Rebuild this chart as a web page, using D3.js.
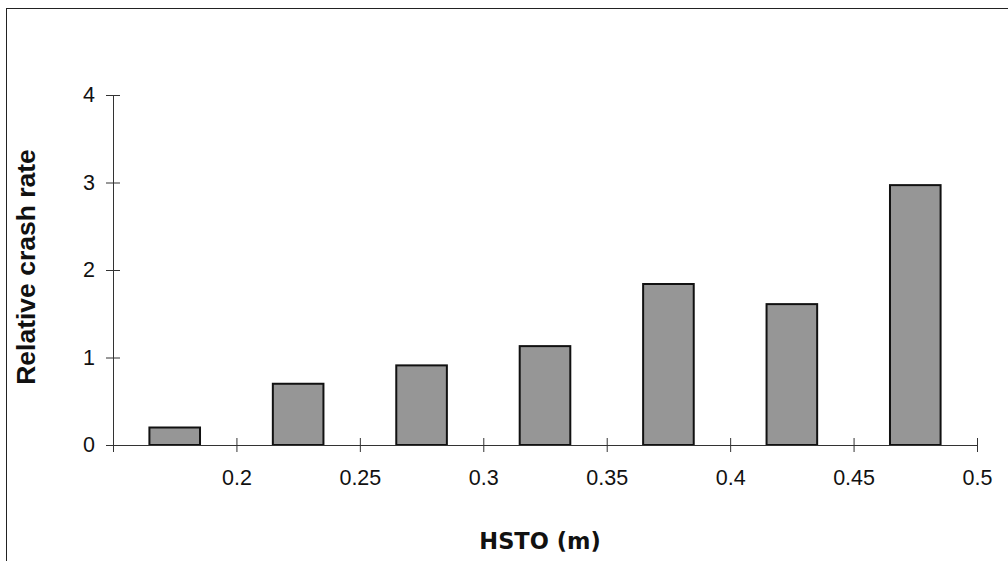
<!DOCTYPE html>
<html>
<head>
<meta charset="utf-8">
<script src="https://cdn.jsdelivr.net/npm/d3@7"></script>
<style>
  html, body { margin: 0; padding: 0; background: #fff; }
  svg { display: block; }
</style>
</head>
<body>
<svg id="chart" width="1008" height="561"></svg>
<script>
// Height-of-step-to-object bins (m), lower and upper edges
const binStart = [0.15, 0.20, 0.25, 0.30, 0.35, 0.40, 0.45];
const binEnd   = [0.20, 0.25, 0.30, 0.35, 0.40, 0.45, 0.50];
// Relative crash rate per bin
const crashRate = [0.20, 0.70, 0.91, 1.13, 1.84, 1.61, 2.97];
// Axis ticks
const xTicks = [0.15, 0.2, 0.25, 0.3, 0.35, 0.4, 0.45, 0.5];
const xTickLabels = ["", "0.2", "0.25", "0.3", "0.35", "0.4", "0.45", "0.5"];
const yTicks = [0, 1, 2, 3, 4];

const svg = d3.select("#chart");

// outer frame (runs off the right and bottom edges)
svg.append("rect")
  .attr("x", 6.5).attr("y", 8.5)
  .attr("width", 1010).attr("height", 560)
  .attr("fill", "none").attr("stroke", "#222").attr("stroke-width", 1);

const x = d3.scaleLinear().domain([0.15, 0.5]).range([113, 977]);
const y = d3.scaleLinear().domain([0, 4]).range([445, 95]);

const barFrac = 0.41; // bar width as a share of its bin

// bars, centred in their bins
svg.append("g")
  .selectAll("rect")
  .data(crashRate)
  .join("rect")
  .attr("x", (d, i) => {
    const mid = (binStart[i] + binEnd[i]) / 2;
    const w = (binEnd[i] - binStart[i]) * barFrac;
    return x(mid - w / 2);
  })
  .attr("width", (d, i) => (x(binEnd[i]) - x(binStart[i])) * barFrac)
  .attr("y", d => y(d))
  .attr("height", d => y(0) - y(d))
  .attr("fill", "#969696")
  .attr("stroke", "#111")
  .attr("stroke-width", 2);

// y axis with ticks crossing the line
const yAxis = d3.axisLeft(y).tickValues(yTicks).tickFormat(d3.format("d"))
  .tickSizeInner(7).tickSizeOuter(0).tickPadding(11);
const gy = svg.append("g").attr("transform", "translate(113,0)").call(yAxis);
gy.selectAll(".tick line").attr("x2", 7).attr("x1", -7);
gy.select(".domain").attr("d", `M0.5,${y(0)}V${y(4)}`);

// x axis with ticks crossing the line
const xAxis = d3.axisBottom(x).tickValues(xTicks).tickFormat((d, i) => xTickLabels[i])
  .tickSizeInner(7).tickSizeOuter(0).tickPadding(18);
const gx = svg.append("g").attr("transform", `translate(0,${y(0)})`).call(xAxis);
gx.selectAll(".tick line").attr("y1", -7).attr("y2", 7);

[gx, gy].forEach(g => {
  g.select(".domain").attr("stroke", "#333").attr("stroke-width", 1);
  g.selectAll(".tick line").attr("stroke", "#333").attr("stroke-width", 1);
  g.selectAll(".tick text")
    .attr("font-family", "'Liberation Sans', Arial, sans-serif")
    .attr("font-size", 21.5)
    .attr("fill", "#111");
});

// axis titles
svg.append("text")
  .attr("transform", `translate(35,${(y(0) + y(4)) / 2 - 3}) rotate(-90)`)
  .attr("text-anchor", "middle")
  .attr("font-family", "'Liberation Sans', Arial, sans-serif")
  .attr("font-weight", "bold")
  .attr("font-size", 26.5)
  .attr("fill", "#111")
  .text("Relative crash rate");

svg.append("text")
  .attr("x", 540)
  .attr("y", 549)
  .attr("text-anchor", "middle")
  .attr("font-family", "'DejaVu Sans', Verdana, sans-serif")
  .attr("font-weight", "bold")
  .attr("font-size", 22.5)
  .attr("fill", "#111")
  .text("HSTO (m)");
</script>
</body>
</html>
